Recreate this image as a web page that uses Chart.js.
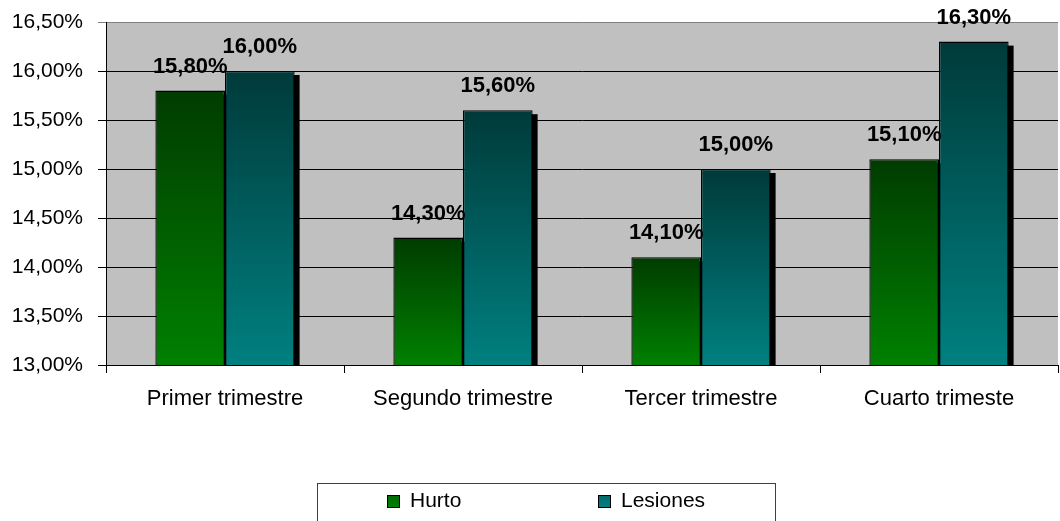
<!DOCTYPE html>
<html>
<head>
<meta charset="utf-8">
<script src="https://cdn.jsdelivr.net/npm/chart.js@4/dist/chart.umd.min.js"></script>
<style>
    html, body { margin: 0; padding: 0; background: #ffffff; }
    #wrap { width: 1060px; height: 521px; position: relative; }
</style>
</head>
<body>
<div id="wrap"><canvas id="chart"></canvas></div>
<script>
// Chart data
const categories = ['Primer trimestre', 'Segundo trimestre', 'Tercer trimestre', 'Cuarto trimeste'];
const seriesNames = ['Hurto', 'Lesiones'];
const hurtoValues = [15.8, 14.3, 14.1, 15.1];
const lesionesValues = [16.0, 15.6, 15.0, 16.3];
const yTicks = [13.0, 13.5, 14.0, 14.5, 15.0, 15.5, 16.0, 16.5];

const FONT = '"Liberation Sans", Arial, sans-serif';

// Gradient stops per series (top -> bottom)
const palettes = [
    { top: '#003c00', bottom: '#008000', swatch: '#006a00' },
    { top: '#003a3a', bottom: '#008080', swatch: '#006a6a' }
];

function formatPct(v) {
    return v.toFixed(2).replace('.', ',') + '%';
}

/**
 * Per-bar vertical gradient, dark at the top and bright at the axis
 */
function barGradient(context, pal) {
    const chart = context.chart;
    const area = chart.chartArea;
    if (!area || context.parsed == null) {
        return pal.bottom;
    }
    const top = chart.scales.y.getPixelForValue(context.parsed.y);
    const g = chart.ctx.createLinearGradient(0, top, 0, area.bottom);
    g.addColorStop(0, pal.top);
    g.addColorStop(1, pal.bottom);
    return g;
}

// Grey plot background
const plotBackground = {
    id: 'plotBackground',
    beforeDraw(chart) {
        const { ctx, chartArea: a } = chart;
        ctx.save();
        ctx.fillStyle = '#c0c0c0';
        ctx.fillRect(a.left, a.top, a.right - a.left, a.bottom - a.top);
        ctx.restore();
    }
};

// Black drop shadow behind each bar
const barShadow = {
    id: 'barShadow',
    beforeDatasetsDraw(chart) {
        const { ctx, chartArea: a } = chart;
        ctx.save();
        ctx.beginPath();
        ctx.rect(a.left, a.top - 30, a.right - a.left, a.bottom - a.top + 30);
        ctx.clip();
        ctx.fillStyle = '#000000';
        chart.data.datasets.forEach((ds, i) => {
            chart.getDatasetMeta(i).data.forEach(bar => {
                const left = bar.x - bar.width / 2 + 5;
                ctx.fillRect(left, bar.y + 4, bar.width, a.bottom - bar.y);
            });
        });
        ctx.restore();
    }
};

// Bold value labels above the bars
const valueLabels = {
    id: 'valueLabels',
    afterDatasetsDraw(chart) {
        const ctx = chart.ctx;
        ctx.save();
        ctx.font = 'bold 22px ' + FONT;
        ctx.fillStyle = '#000000';
        ctx.textAlign = 'center';
        ctx.textBaseline = 'alphabetic';
        chart.data.datasets.forEach((ds, i) => {
            chart.getDatasetMeta(i).data.forEach((bar, j) => {
                ctx.fillText(formatPct(ds.data[j]), bar.x, bar.y - 18);
            });
        });
        ctx.restore();
    }
};

// Boxed legend at the bottom
const boxLegend = {
    id: 'boxLegend',
    afterDraw(chart) {
        const ctx = chart.ctx;
        ctx.save();
        ctx.strokeStyle = '#404040';
        ctx.lineWidth = 1;
        ctx.strokeRect(317.5, 483.5, 458, 60);

        const itemX = [387, 598];
        ctx.font = '21px ' + FONT;
        ctx.textBaseline = 'alphabetic';
        ctx.textAlign = 'left';
        seriesNames.forEach((name, i) => {
            const x = itemX[i];
            const g = ctx.createLinearGradient(0, 495, 0, 507);
            g.addColorStop(0, palettes[i].swatch);
            g.addColorStop(1, palettes[i].bottom);
            ctx.fillStyle = g;
            ctx.fillRect(x, 495, 12, 12);
            ctx.strokeStyle = '#000000';
            ctx.strokeRect(x + 0.5, 495.5, 12, 12);
            ctx.fillStyle = '#000000';
            ctx.fillText(name, x + 23, 507);
        });
        ctx.restore();
    }
};

const ctx = document.getElementById('chart').getContext('2d');
new Chart(ctx, {
    type: 'bar',
    data: {
        labels: categories,
        datasets: [
            {
                label: seriesNames[0],
                data: hurtoValues,
                backgroundColor: (c) => barGradient(c, palettes[0]),
                borderColor: '#000000',
                borderWidth: 1.3,
                borderSkipped: 'bottom'
            },
            {
                label: seriesNames[1],
                data: lesionesValues,
                backgroundColor: (c) => barGradient(c, palettes[1]),
                borderColor: '#000000',
                borderWidth: 1.3,
                borderSkipped: 'bottom'
            }
        ]
    },
    options: {
        responsive: true,
        maintainAspectRatio: false,
        animation: false,
        events: [],
        layout: { padding: { top: 22, right: 2, left: 0, bottom: 0 } },
        datasets: {
            bar: { barPercentage: 1.0, categoryPercentage: 0.585 }
        },
        plugins: {
            legend: { display: false },
            tooltip: { enabled: false }
        },
        scales: {
            x: {
                afterFit: (scale) => {
                    scale.height = 156;
                    scale.paddingLeft = 0;
                    scale.paddingRight = 0;
                },
                grid: {
                    offset: true,
                    drawOnChartArea: false,
                    drawTicks: true,
                    tickLength: 8,
                    color: '#000000'
                },
                border: { color: '#000000', width: 1 },
                ticks: {
                    color: '#000000',
                    padding: 13,
                    font: { family: FONT, size: 22 },
                    maxRotation: 0
                }
            },
            y: {
                min: yTicks[0],
                max: yTicks[yTicks.length - 1],
                afterFit: (scale) => {
                    scale.width = 106;
                    scale.paddingTop = 0;
                    scale.paddingBottom = 0;
                },
                afterBuildTicks: (scale) => {
                    scale.ticks = yTicks.map(v => ({ value: v }));
                },
                grid: {
                    color: (c) => (c.tick && c.tick.value === yTicks[yTicks.length - 1]) ? '#808080' : '#000000',
                    lineWidth: 1,
                    drawTicks: true,
                    tickLength: 8
                },
                border: { color: '#000000', width: 1 },
                ticks: {
                    color: '#000000',
                    padding: 15,
                    font: { family: FONT, size: 21 },
                    callback: (v) => formatPct(v)
                }
            }
        }
    },
    plugins: [plotBackground, barShadow, valueLabels, boxLegend]
});
</script>
</body>
</html>
